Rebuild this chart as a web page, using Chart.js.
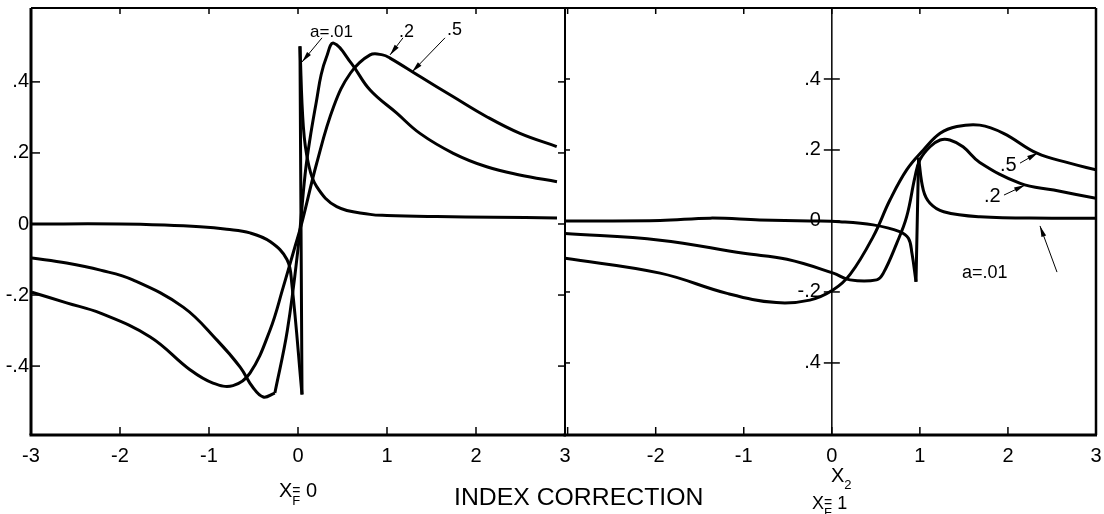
<!DOCTYPE html>
<html>
<head>
<meta charset="utf-8">
<title>Index correction</title>
<script src="https://cdn.jsdelivr.net/npm/chart.js@4.4.1/dist/chart.umd.min.js"></script>
<style>
  body { margin: 0; background: #fff; }
  #wrap { position: relative; width: 1104px; height: 514px; font-family: 'Liberation Sans', Arial, sans-serif; color: #000; }
  #wrap canvas { position: absolute; left: 0; top: 0; }
  .lbl { position: absolute; line-height: 1; white-space: nowrap; }
  .sub { font-size: 13px; position: relative; }
</style>
</head>
<body>
<div id="wrap">
  <canvas id="leftChart" width="1104" height="514"></canvas>
  <canvas id="rightChart" width="1104" height="514"></canvas>

  <!-- curve labels -->
  <div class="lbl" style="left:310px;top:23px;font-size:17px">a=.01</div>
  <div class="lbl" style="left:399px;top:22px;font-size:18px">.2</div>
  <div class="lbl" style="left:447px;top:20px;font-size:18px">.5</div>
  <div class="lbl" style="left:1000px;top:154px;font-size:20px">.5</div>
  <div class="lbl" style="left:984px;top:185px;font-size:20px">.2</div>
  <div class="lbl" style="left:962px;top:263px;font-size:18px">a=.01</div>

  <!-- axis captions -->
  <div class="lbl" style="left:279px;top:480px;font-size:20px">X<span class="sub" style="top:8px">F</span><span style="font-size:14px;margin-left:-8px;position:relative;top:-2px">=</span> 0</div>
  <div class="lbl" style="left:454px;top:485px;font-size:24.8px">INDEX CORRECTION</div>
  <div class="lbl" style="left:831px;top:465px;font-size:20px">X<span class="sub" style="top:7px">2</span></div>
  <div class="lbl" style="left:812px;top:494px;font-size:18px">X<span class="sub" style="top:8px">F</span><span style="font-size:14px;margin-left:-8px;position:relative;top:-2px">=</span> 1</div>
</div>

<script>
// Axes: ranges, ticks and their labels
const xRangeLeft = [-3, 3];
const xRangeRight = [-3.03, 3];
const yRangeLeft = [-0.594, 0.608];
const yRangeRight = [-0.603, 0.600];
const xTickValues = [-3, -2, -1, 0, 1, 2, 3];
const xTickLabelsLeft = ['-3', '-2', '-1', '0', '1', '2', '3'];
const xTickLabelsRight = ['', '-2', '-1', '0', '1', '2', '3'];
const yTickValues = [-0.4, -0.2, 0, 0.2, 0.4];
const yTickLabelsLeft = ['-.4', '-.2', '0', '.2', '.4'];
const yTickLabelsRight = ['.4', '-.2', '0', '.2', '.4'];

// Left panel (X_F = 0)
const leftA01X = [-3, -2, -1.5, -1.1, -0.8, -0.54, -0.31, -0.124, -0.07, 0.045, 0.022, 0.06, 0.116, 0.21, 0.435, 0.81, 1.0, 1.56, 2.2, 2.91];
const leftA01Y = [0, 0, -0.003, -0.008, -0.015, -0.025, -0.05, -0.10, -0.167, -0.48, 0.5, 0.274, 0.171, 0.105, 0.049, 0.027, 0.024, 0.021, 0.019, 0.017];
const leftA01Corners = [9, 10];

const leftA2X = [-2.99, -2.6, -2.22, -1.85, -1.29, -0.91, -0.65, -0.51, -0.39, -0.26, -0.12, 0.0, 0.08, 0.135, 0.21, 0.26, 0.32, 0.4, 0.6, 0.81, 1.11, 1.37, 1.745, 2.12, 2.49, 2.91];
const leftA2Y = [-0.096, -0.11, -0.13, -0.158, -0.234, -0.327, -0.403, -0.459, -0.487, -0.476, -0.3, -0.07, 0.14, 0.24, 0.35, 0.42, 0.47, 0.509, 0.452, 0.377, 0.312, 0.255, 0.199, 0.161, 0.138, 0.119];
const leftA2Corners = [9];

const leftA5X = [-2.99, -2.6, -2.22, -1.66, -1.21, -0.955, -0.73, -0.54, -0.315, -0.165, -0.034, 0.04, 0.21, 0.4, 0.59, 0.81, 0.95, 1.034, 1.371, 1.745, 2.12, 2.494, 2.907];
const leftA5Y = [-0.192, -0.222, -0.251, -0.318, -0.411, -0.448, -0.455, -0.42, -0.299, -0.177, -0.064, 0.0, 0.171, 0.33, 0.425, 0.476, 0.476, 0.467, 0.415, 0.358, 0.302, 0.255, 0.218];

// Right panel (X_F = 1)
const rightA01X = [-3.03, -1.95, -1.38, -0.82, -0.25, 0.09, 0.47, 0.77, 0.87, 0.91, 0.956, 0.985, 1.039, 1.115, 1.27, 1.68, 2.5, 3.0];
const rightA01Y = [0, 0.001, 0.008, 0.003, 0, -0.002, -0.011, -0.03, -0.049, -0.091, -0.171, 0.178, 0.087, 0.05, 0.026, 0.012, 0.008, 0.008];
const rightA01Corners = [10, 11];

const rightA2X = [-3.03, -1.95, -1.0, -0.51, 0.017, 0.206, 0.509, 0.585, 0.737, 0.85, 0.945, 1.0, 1.115, 1.23, 1.34, 1.49, 1.68, 2.14, 2.52, 3.0];
const rightA2Y = [-0.035, -0.054, -0.091, -0.108, -0.147, -0.166, -0.166, -0.147, -0.063, 0.012, 0.125, 0.172, 0.209, 0.228, 0.228, 0.209, 0.165, 0.106, 0.087, 0.064];

const rightA5X = [-3.03, -1.95, -1.19, -0.63, -0.25, 0.017, 0.21, 0.47, 0.66, 0.85, 1.04, 1.23, 1.42, 1.68, 1.95, 2.33, 2.7, 3.0];
const rightA5Y = [-0.105, -0.147, -0.204, -0.23, -0.223, -0.194, -0.15, -0.044, 0.059, 0.144, 0.2, 0.247, 0.266, 0.27, 0.247, 0.191, 0.163, 0.144];

// Leader lines for the curve labels: [tailX, tailY, tipX, tipY] in data units
const leftArrows = [
    [0.27, 0.524, 0.045, 0.456],
    [1.18, 0.524, 1.034, 0.476],
    [1.652, 0.524, 1.281, 0.428]
];
const rightArrows = [
    [2.137, 0.163, 2.341, 0.192],
    [1.955, 0.073, 2.194, 0.101],
    [2.557, -0.144, 2.364, -0.014]
];

const FONT = 'Liberation Sans, Arial, sans-serif';

// Splits a curve at its sharp corners so the smoothing does not overshoot there
function curvePieces(xs, ys, corners, label) {
    const cuts = [0, ...(corners || []), xs.length - 1];
    const sets = [];
    for (let i = 0; i < cuts.length - 1; i++) {
        const pts = [];
        for (let k = cuts[i]; k <= cuts[i + 1]; k++) pts.push({ x: xs[k], y: ys[k] });
        sets.push({
            label: label,
            data: pts,
            borderColor: '#000',
            borderWidth: 3,
            pointRadius: 0,
            tension: 0.4,
            fill: false
        });
    }
    return sets;
}

// Draws the frame, inward tick marks, the inner y axis and label leaders
const framePlugin = {
    id: 'frame',
    afterDatasetsDraw(chart, args, opts) {
        const { ctx, chartArea: a } = chart;
        const xs = chart.scales.x;
        const ys = chart.scales.y;
        const seg = (x1, y1, x2, y2, w) => {
            ctx.lineWidth = w;
            ctx.beginPath();
            ctx.moveTo(x1, y1);
            ctx.lineTo(x2, y2);
            ctx.stroke();
        };
        ctx.save();
        ctx.strokeStyle = '#000';
        ctx.fillStyle = '#000';

        seg(a.left - 1.5, a.bottom, a.right + 1, a.bottom, 3);
        seg(a.left, a.top, a.right, a.top, 2);
        seg(a.left, a.top, a.left, a.bottom, opts.leftWidth);
        seg(a.right, a.top, a.right, a.bottom, opts.rightWidth);

        xs.ticks.forEach(t => {
            const px = xs.getPixelForValue(t.value);
            seg(px, a.bottom, px, a.bottom - 8, 1.5);
            seg(px, a.top, px, a.top + 6, 1.5);
        });

        const axisX = opts.axisAtZero ? xs.getPixelForValue(0) : null;
        if (axisX !== null) seg(axisX, a.top, axisX, a.bottom, 1.5);

        ctx.font = '20px ' + FONT;
        ctx.textAlign = 'right';
        ctx.textBaseline = 'middle';
        ys.ticks.forEach((t, i) => {
            const py = ys.getPixelForValue(t.value);
            if (axisX !== null) {
                seg(axisX - 8, py, axisX + 8, py, 1.5);
                seg(a.left, py, a.left + 5, py, 1.5);
                // labels of the inner axis sit just left of it
                ctx.fillText(opts.innerLabels[i], axisX - 11, py);
            } else {
                seg(a.left, py, a.left + 9, py, 1.5);
                seg(a.right, py, a.right - 7, py, 1.5);
            }
        });

        (opts.arrows || []).forEach(([tx, ty, hx, hy]) => {
            const x1 = xs.getPixelForValue(tx), y1 = ys.getPixelForValue(ty);
            const x2 = xs.getPixelForValue(hx), y2 = ys.getPixelForValue(hy);
            seg(x1, y1, x2, y2, 1);
            const len = Math.hypot(x2 - x1, y2 - y1);
            const ux = (x2 - x1) / len, uy = (y2 - y1) / len;
            const bx = x2 - ux * 11, by = y2 - uy * 11;
            ctx.beginPath();
            ctx.moveTo(x2, y2);
            ctx.lineTo(bx - uy * 2.5, by + ux * 2.5);
            ctx.lineTo(bx + uy * 2.5, by - ux * 2.5);
            ctx.closePath();
            ctx.fill();
        });
        ctx.restore();
    }
};

function makePanel(canvasId, panel) {
    const ctx = document.getElementById(canvasId).getContext('2d');
    return new Chart(ctx, {
        type: 'line',
        data: { datasets: panel.datasets },
        options: {
            responsive: false,
            animation: false,
            devicePixelRatio: 1,
            events: [],
            layout: { padding: panel.padding },
            plugins: {
                legend: { display: false },
                tooltip: { enabled: false },
                frame: panel.frame
            },
            scales: {
                x: {
                    type: 'linear',
                    position: 'bottom',
                    min: panel.xRange[0],
                    max: panel.xRange[1],
                    grid: { display: false, drawTicks: false },
                    border: { display: false },
                    afterBuildTicks: s => { s.ticks = xTickValues.map(v => ({ value: v })); },
                    afterFit: s => {
                        s.height = 79;
                        s.paddingLeft = 0; s.paddingRight = 0;
                    },
                    ticks: {
                        autoSkip: false,
                        maxRotation: 0,
                        padding: 9,
                        color: '#000',
                        font: { family: FONT, size: 20 },
                        callback: (v, i) => panel.xLabels[i]
                    }
                },
                y: {
                    type: 'linear',
                    position: panel.yPosition,
                    min: panel.yRange[0],
                    max: panel.yRange[1],
                    grid: { display: false, drawTicks: false },
                    border: { display: false },
                    afterBuildTicks: s => { s.ticks = yTickValues.map(v => ({ value: v })); },
                    afterFit: s => {
                        if (panel.yPosition === 'left') s.width = 31;
                        s.paddingTop = 0; s.paddingBottom = 0;
                    },
                    ticks: {
                        display: panel.yTicksShown,
                        padding: 2,
                        color: '#000',
                        font: { family: FONT, size: 20 },
                        callback: (v, i) => yTickLabelsLeft[i]
                    }
                }
            }
        },
        plugins: [framePlugin]
    });
}

makePanel('leftChart', {
    datasets: [
        ...curvePieces(leftA01X, leftA01Y, leftA01Corners, 'a=.01'),
        ...curvePieces(leftA2X, leftA2Y, leftA2Corners, '.2'),
        ...curvePieces(leftA5X, leftA5Y, [], '.5')
    ],
    padding: { left: 0, right: 539, top: 8, bottom: 0 },
    xRange: xRangeLeft,
    yRange: yRangeLeft,
    xLabels: xTickLabelsLeft,
    yPosition: 'left',
    yTicksShown: true,
    frame: { leftWidth: 3, rightWidth: 2, axisAtZero: false, arrows: leftArrows }
});

makePanel('rightChart', {
    datasets: [
        ...curvePieces(rightA01X, rightA01Y, rightA01Corners, 'a=.01'),
        ...curvePieces(rightA2X, rightA2Y, [], '.2'),
        ...curvePieces(rightA5X, rightA5Y, [], '.5')
    ],
    padding: { left: 565, right: 8, top: 8, bottom: 0 },
    xRange: xRangeRight,
    yRange: yRangeRight,
    xLabels: xTickLabelsRight,
    yPosition: { x: 0 },
    yTicksShown: false,
    frame: { leftWidth: 2, rightWidth: 2.5, axisAtZero: true, arrows: rightArrows, innerLabels: yTickLabelsRight }
});
</script>
</body>
</html>
